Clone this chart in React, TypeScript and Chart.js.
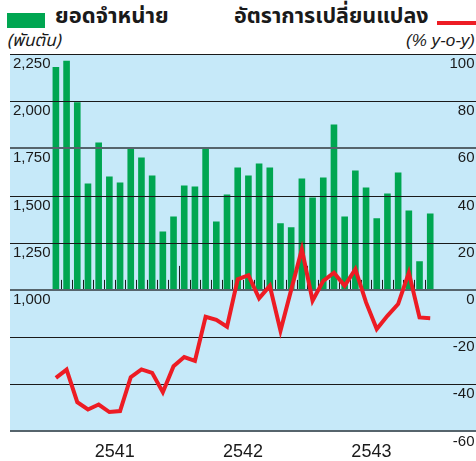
import React, { useEffect, useRef } from "react";
import { Chart, registerables } from "chart.js";

Chart.register(...registerables);

const years = ["2541", "2542", "2543"];
const salesLabel = "ยอดจำหน่าย";
const yoyLabel = "อัตราการเปลี่ยนแปลง";
const leftUnit = "(พันตัน)";
const rightUnit = "(% y-o-y)";

const sales = [
  2181, 2214, 1994, 1564, 1781, 1601, 1569, 1753, 1701, 1606, 1310, 1389,
  1553, 1548, 1753, 1363, 1506, 1648, 1606, 1670, 1648, 1353, 1332, 1590,
  1490, 1596, 1876, 1389, 1633, 1543, 1379, 1511, 1622, 1421, 1152, 1405,
];

const yoy = [
  -37.3, -33.8, -47.6, -50.7, -48.6, -51.8, -51.4, -37.0, -33.7, -35.2, -43.4, -32.4,
  -28.5, -30.1, -11.4, -12.7, -15.6, 4.5, 6.2, -3.6, 1.7, -17.3, 0.0, 17.2,
  -4.6, 3.8, 7.3, 1.7, 8.8, -5.3, -16.6, -11.0, -6.0, 7.3, -11.7, -12.0,
];

const leftTicks = { min: 250, max: 2250, step: 250, shownFrom: 1000 };
const rightTicks = { min: -60, max: 100, step: 20 };
const monthsPerYear = 12;

const GREEN = "#00a651";
const RED = "#ed1c24";
const BG = "#c6e9f9";
const NUM_FONT = "'Liberation Sans', Arial, sans-serif";
const THAI_FONT = "'Noto Sans Thai', 'Loma', 'Garuda', 'Tahoma', 'DejaVu Sans', sans-serif";

const bgPlugin = {
  id: "bgPlugin",
  beforeDraw(chart: any) {
    const { ctx, chartArea } = chart;
    ctx.save();
    ctx.fillStyle = BG;
    ctx.fillRect(chartArea.left, chartArea.top, chart.width - chartArea.left, chartArea.bottom - chartArea.top);
    ctx.restore();
  },
};

const gridPlugin = {
  id: "gridPlugin",
  afterDatasetDraw(chart: any, args: any) {
    if (args.index !== 0) return;
    const { ctx, chartArea } = chart;
    const y2 = chart.scales.y2;
    const x = chart.scales.x;
    const y = chart.scales.y;
    ctx.save();
    // month / year ticks along the 1,000 line
    const basePix = y.getPixelForValue(leftTicks.shownFrom);
    ctx.strokeStyle = "#1a1a1a";
    ctx.lineWidth = 1;
    for (let i = 0; i < sales.length - 1; i++) {
      const px = Math.round(x.getPixelForValue(i + 0.5)) + 0.5;
      const tall = (i + 1) % monthsPerYear === 0;
      ctx.beginPath();
      ctx.moveTo(px, basePix);
      ctx.lineTo(px, basePix - (tall ? 24 : 10));
      ctx.stroke();
    }
    // horizontal grid lines
    for (let v = rightTicks.min; v <= rightTicks.max; v += rightTicks.step) {
      const py = y2.getPixelForValue(v);
      const heavy = v === 0 || v === 60 || v === rightTicks.min;
      ctx.strokeStyle = heavy ? "#56646c" : "#1a1a1a";
      ctx.lineWidth = heavy ? 2 : 1;
      const yy = heavy ? Math.round(py) : Math.round(py) + 0.5;
      ctx.beginPath();
      ctx.moveTo(chartArea.left, yy);
      ctx.lineTo(chart.width, yy);
      ctx.stroke();
    }
    ctx.restore();
  },
};

export default function App() {
  const canvasRef = useRef<HTMLCanvasElement | null>(null);

  useEffect(() => {
    document.body.style.margin = "0";
    const canvas = canvasRef.current;
    if (!canvas) return;
    const chart = new Chart(canvas, {
      type: "bar",
      data: {
        datasets: [
          {
            type: "bar",
            label: salesLabel,
            data: sales.map((v, i) => ({ x: i, y: v })),
            base: leftTicks.shownFrom,
            backgroundColor: GREEN,
            borderWidth: 0,
            barPercentage: 0.62,
            categoryPercentage: 1,
            yAxisID: "y",
            order: 2,
          } as any,
          {
            type: "line",
            label: yoyLabel,
            data: yoy.map((v, i) => ({ x: i, y: v })),
            borderColor: RED,
            borderWidth: 4,
            pointRadius: 0,
            tension: 0,
            borderJoinStyle: "miter",
            yAxisID: "y2",
            order: 1,
          } as any,
        ],
      },
      options: {
        responsive: false,
        devicePixelRatio: 1,
        animation: false,
        events: [],
        layout: { padding: { top: 54, left: 4, right: 0, bottom: -12 } },
        plugins: { legend: { display: false }, tooltip: { enabled: false } },
        scales: {
          x: {
            type: "linear",
            min: -4.29,
            max: 39.0,
            offset: false,
            grid: { display: false, drawTicks: false },
            border: { display: false },
            afterBuildTicks: (scale: any) => {
              scale.ticks = years.map((_, k) => ({ value: k * monthsPerYear + (monthsPerYear - 1) / 2 }));
            },
            ticks: {
              autoSkip: false,
              maxRotation: 0,
              padding: 10,
              color: "#1a1a1a",
              font: { family: NUM_FONT, size: 18 },
              callback: (value: any) => years[Math.round((Number(value) - (monthsPerYear - 1) / 2) / monthsPerYear)],
            },
          },
          y: {
            type: "linear",
            position: "left",
            min: leftTicks.min,
            max: leftTicks.max,
            grid: { display: false, drawTicks: false },
            border: { display: false },
            ticks: {
              stepSize: leftTicks.step,
              mirror: true,
              padding: 3,
              labelOffset: 10,
              autoSkip: false,
              color: "#1a1a1a",
              font: { family: NUM_FONT, size: 15 },
              callback: (value: any) => (Number(value) >= leftTicks.shownFrom ? Number(value).toLocaleString("en-US") : ""),
            },
          },
          y2: {
            type: "linear",
            position: "right",
            min: rightTicks.min,
            max: rightTicks.max,
            grid: { display: false, drawTicks: false },
            border: { display: false },
            ticks: {
              stepSize: rightTicks.step,
              mirror: true,
              padding: 1.5,
              labelOffset: 10,
              autoSkip: false,
              color: "#1a1a1a",
              font: { family: NUM_FONT, size: 15 },
            },
          },
        },
      },
      plugins: [bgPlugin, gridPlugin],
    });
    return () => chart.destroy();
  }, []);

  return (
    <div style={{ position: "fixed", left: 0, top: 0, width: 476, height: 461, background: "#fff", overflow: "hidden" }}>
      <div style={{ position: "absolute", left: 7, top: 13, width: 38, height: 15, background: GREEN }} />
      <div style={{ position: "absolute", left: 55, top: 2, fontFamily: THAI_FONT, fontWeight: "bold", fontSize: 22, color: "#1a1a1a", whiteSpace: "nowrap", lineHeight: "30px" }}>
        {salesLabel}
      </div>
      <div style={{ position: "absolute", left: 234, top: 2, fontFamily: THAI_FONT, fontWeight: "bold", fontSize: 21.5, color: "#1a1a1a", whiteSpace: "nowrap", lineHeight: "30px" }}>
        {yoyLabel}
      </div>
      <div style={{ position: "absolute", left: 437, top: 21, width: 39, height: 4, background: RED }} />
      <div style={{ position: "absolute", left: 7, top: 30, fontFamily: THAI_FONT, fontStyle: "italic", fontSize: 17, color: "#1a1a1a", whiteSpace: "nowrap", lineHeight: "22px" }}>
        {leftUnit}
      </div>
      <div style={{ position: "absolute", right: 1, top: 30, fontFamily: NUM_FONT, fontStyle: "italic", fontSize: 17, color: "#1a1a1a", whiteSpace: "nowrap", lineHeight: "22px" }}>
        {rightUnit}
      </div>
      <canvas ref={canvasRef} width={476} height={461} style={{ position: "absolute", left: 0, top: 0, width: 476, height: 461 }} />
    </div>
  );
}
